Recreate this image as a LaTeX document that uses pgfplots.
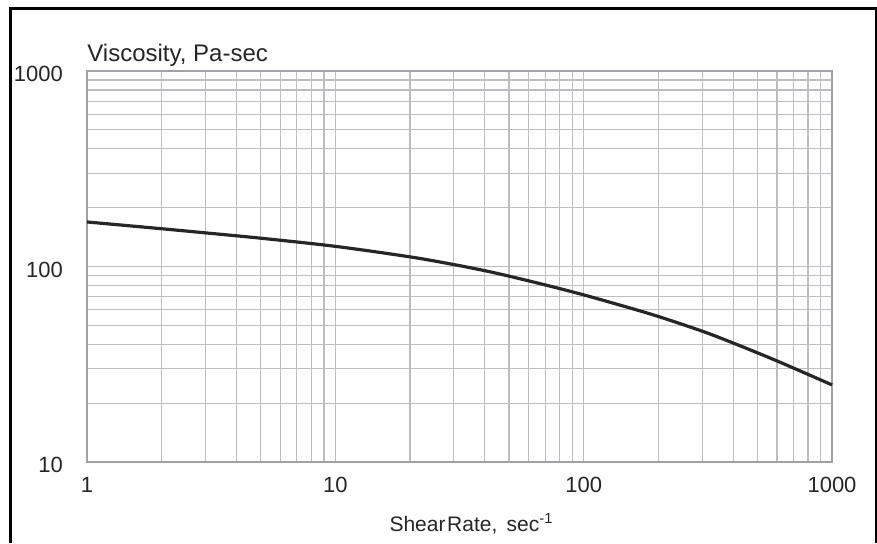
\documentclass[border=0pt]{standalone}
\usepackage{fontspec}
\setmainfont{Liberation Sans}
\usepackage{pgfplots}
\pgfplotsset{compat=1.18}
\definecolor{gridc}{RGB}{188,188,194}
\begin{document}
\begin{tikzpicture}
\useasboundingbox (0pt,0pt) rectangle (438.5pt,271.5pt);
\draw[line width=1.5pt,black] (5pt,0pt) -- (5pt,267.5pt) -- (438pt,267.5pt) -- (438pt,0pt);
\begin{axis}[
  at={(43.5pt,40.5pt)}, anchor=south west,
  scale only axis, width=372.5pt, height=195.5pt,
  xmode=log, ymode=log,
  xmin=1, xmax=1000, ymin=10, ymax=1000,
  xtick={1,10,100,1000}, xticklabels={1,10,100,1000},
  ytick={10,100,1000}, yticklabels={10,100,1000},
  grid=both,
  major grid style={gridc, line width=0.6pt},
  minor grid style={gridc, line width=0.6pt},
  axis line style={gridc!85!black, line width=0.7pt},
  major tick length=0pt, minor tick length=0pt,
  tick label style={font=\fontsize{11}{13}\selectfont, text=black!85},
  xticklabel style={yshift=-4pt},
  yticklabel style={xshift=-8.5pt, yshift=-1.5pt},
  /pgf/number format/assume math mode=true,
  xlabel={Shear\hspace{0.8pt}Rate,\ \,sec\textsuperscript{-1}},
  xlabel style={font=\fontsize{10.5}{12}\selectfont, text=black!85, yshift=-3.5pt, xshift=6pt},
  clip=false,
]
\addplot[black!85, line width=1.6pt, smooth, tension=0.5] coordinates {
 (1,169) (2,156) (3,148.6) (5,139.6) (10,126.8) (20,112) (30,102.3)
 (40,95.2) (50,89.3) (70,80.5) (100,71.6) (150,61.9) (200,55.5)
 (300,46.7) (400,40.6) (600,32.9) (1000,24.8)
};
\node[anchor=base west, font=\fontsize{12}{14}\selectfont, text=black!85, inner sep=0pt] at (rel axis cs:0,1) [yshift=4.5pt] {Viscosity,\ Pa-sec};
\end{axis}
\end{tikzpicture}
\end{document}
